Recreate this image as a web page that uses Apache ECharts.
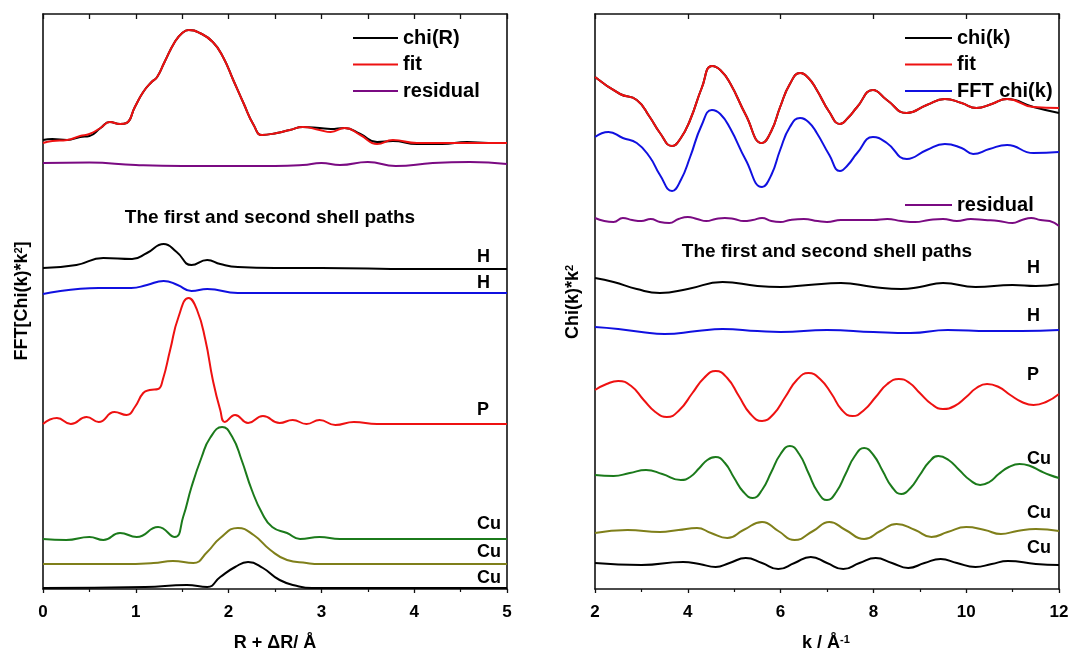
<!DOCTYPE html>
<html><head><meta charset="utf-8">
<script src="https://cdn.jsdelivr.net/npm/echarts@6/dist/echarts.min.js"></script>
<style>html,body{margin:0;padding:0;background:#fff}#c{width:1073px;height:654px}</style>
</head><body><div id="c"></div>
<script>
// ---------- Left panel: FFT, R + dR (Å) ----------
const chiR_x = [0,0.1,0.26,0.4,0.5,0.62,0.72,0.83,0.9,0.99,1.08,1.17,1.23,1.31,1.42,1.5,1.57,1.69,1.83,1.94,2.05,2.16,2.27,2.36,2.52,2.66,2.8,2.98,3.1,3.25,3.42,3.6,3.77,4.03,4.3,4.57,4.8,5.0];
const chiR_y = [4.49,4.50,4.49,4.52,4.53,4.61,4.67,4.65,4.66,4.82,4.97,5.07,5.12,5.27,5.47,5.56,5.59,5.56,5.47,5.32,5.09,4.86,4.64,4.54,4.56,4.59,4.62,4.61,4.60,4.61,4.55,4.47,4.48,4.45,4.45,4.47,4.46,4.46];
const fitR_y = [4.46,4.48,4.49,4.53,4.55,4.61,4.67,4.65,4.66,4.82,4.97,5.07,5.12,5.27,5.47,5.56,5.59,5.56,5.47,5.32,5.09,4.86,4.64,4.54,4.56,4.59,4.62,4.59,4.57,4.61,4.54,4.45,4.49,4.46,4.46,4.46,4.46,4.46];
const resR_x = [0,0.5,1.0,1.5,2.0,2.5,2.8,3.0,3.2,3.5,3.8,4.2,4.6,5.0];
const resR_y = [4.26,4.265,4.24,4.23,4.23,4.23,4.24,4.26,4.24,4.27,4.23,4.26,4.27,4.25];
const hR1_x = [0,0.36,0.65,0.96,1.12,1.3,1.44,1.6,1.77,1.91,2.1,2.5,3,4,5];
const hR1_y = [3.21,3.24,3.31,3.30,3.36,3.45,3.37,3.24,3.29,3.25,3.22,3.21,3.21,3.20,3.20];
const hR2_x = [0,0.6,0.95,1.12,1.3,1.45,1.6,1.77,2.1,3,5];
const hR2_y = [2.95,3.01,3.01,3.04,3.08,3.04,2.98,3.00,2.96,2.96,2.96];
const pR_x = [0,0.15,0.3,0.47,0.6,0.77,0.9,0.99,1.08,1.15,1.24,1.29,1.37,1.46,1.57,1.66,1.75,1.83,1.91,1.96,2.07,2.21,2.37,2.55,2.69,2.84,2.98,3.15,3.35,3.6,4,5];
const pR_y = [1.65,1.71,1.65,1.72,1.67,1.77,1.74,1.82,1.96,1.99,2.00,2.09,2.39,2.72,2.91,2.79,2.49,2.09,1.79,1.67,1.74,1.66,1.73,1.66,1.69,1.65,1.69,1.64,1.67,1.65,1.65,1.65];
const cuR1_x = [0,0.25,0.5,0.65,0.83,1.01,1.24,1.42,1.51,1.6,1.71,1.8,1.93,2.04,2.14,2.25,2.36,2.47,2.63,2.77,2.98,3.2,5];
const cuR1_y = [0.50,0.49,0.52,0.49,0.56,0.52,0.62,0.52,0.72,1.02,1.32,1.51,1.62,1.52,1.29,0.99,0.76,0.62,0.56,0.50,0.52,0.50,0.50];
const cuR2_x = [0,0.83,1.19,1.4,1.62,1.77,1.91,2.1,2.27,2.45,2.63,2.84,2.98,5];
const cuR2_y = [0.25,0.25,0.26,0.28,0.26,0.37,0.51,0.61,0.54,0.39,0.29,0.26,0.25,0.25];
const cuR3_x = [0,1.1,1.55,1.77,1.91,2.07,2.21,2.37,2.55,2.74,2.9,3.0,5];
const cuR3_y = [0.01,0.02,0.04,0.02,0.12,0.22,0.27,0.21,0.09,0.03,0.01,0.01,0.01];

// ---------- Right panel: k (1/Å) ----------
const chik_x = [2,2.54,2.9,3.18,3.4,3.66,3.85,4.05,4.3,4.52,4.7,4.91,5.25,5.6,5.8,5.99,6.2,6.42,6.6,6.78,7.05,7.28,7.45,7.65,7.99,8.29,8.72,9.15,9.54,9.9,10.22,10.55,10.88,11.45,12];
const chik_y = [5.12,4.95,4.89,4.72,4.56,4.43,4.51,4.69,5.01,5.23,5.19,5.06,4.74,4.46,4.58,4.82,5.05,5.16,5.11,4.99,4.77,4.65,4.71,4.82,4.99,4.89,4.76,4.84,4.90,4.86,4.81,4.85,4.90,4.82,4.76];
const fitk_y = [5.12,4.95,4.89,4.72,4.56,4.43,4.51,4.69,5.01,5.23,5.19,5.06,4.74,4.46,4.58,4.82,5.05,5.16,5.11,4.99,4.77,4.65,4.71,4.82,4.99,4.89,4.76,4.84,4.90,4.86,4.81,4.85,4.90,4.82,4.81];
const fftk_x = [2,2.29,2.6,2.9,3.18,3.4,3.66,3.85,4.05,4.3,4.52,4.7,4.91,5.25,5.6,5.8,5.99,6.2,6.42,6.6,6.78,7.05,7.28,7.45,7.65,7.99,8.29,8.72,9.15,9.54,9.9,10.15,10.5,10.88,11.45,12];
const fftk_y = [4.52,4.57,4.51,4.46,4.32,4.14,3.98,4.09,4.32,4.64,4.79,4.75,4.61,4.29,4.02,4.14,4.39,4.62,4.71,4.67,4.56,4.34,4.18,4.24,4.36,4.52,4.46,4.30,4.39,4.45,4.41,4.35,4.40,4.44,4.36,4.37];
const resk_x = [2,2.2,2.4,2.6,2.8,3.0,3.2,3.4,3.6,3.8,4.0,4.2,4.4,4.6,4.8,5.0,5.2,5.4,5.6,5.8,6.0,6.2,6.5,6.8,7.0,7.3,7.6,8.0,8.3,8.6,8.9,9.2,9.5,9.8,10.1,10.4,10.7,11.0,11.2,11.4,11.6,11.8,12];
const resk_y = [3.71,3.68,3.67,3.71,3.69,3.68,3.70,3.67,3.66,3.70,3.72,3.70,3.68,3.70,3.71,3.70,3.68,3.69,3.71,3.68,3.67,3.69,3.70,3.68,3.67,3.69,3.69,3.69,3.70,3.68,3.67,3.69,3.70,3.68,3.70,3.69,3.68,3.66,3.69,3.71,3.69,3.68,3.63];
const hk1_x = [2,2.4,2.9,3.4,4.0,4.75,5.5,6.0,6.6,7.3,8.0,8.6,9.0,9.5,10.2,11.0,11.5,12];
const hk1_y = [3.11,3.07,3.00,2.96,3.00,3.07,3.03,3.02,3.04,3.06,3.02,3.00,3.02,3.06,3.02,3.04,3.03,3.05];
const hk2_x = [2,2.5,3.0,3.5,4.2,4.75,5.5,6,7,8,8.8,9.6,10.5,11.2,12];
const hk2_y = [2.62,2.60,2.57,2.55,2.58,2.60,2.58,2.57,2.59,2.57,2.56,2.59,2.58,2.58,2.59];
const pk_x = [2,2.25,2.5,2.78,3.05,3.3,3.55,3.82,4.1,4.35,4.6,4.85,5.1,5.35,5.6,5.85,6.1,6.35,6.6,6.85,7.1,7.32,7.55,7.8,8.05,8.3,8.55,8.78,9.0,9.25,9.5,9.75,10.0,10.22,10.45,10.7,10.95,11.2,11.45,11.72,12];
const pk_y = [1.99,2.05,2.08,2.03,1.89,1.77,1.72,1.79,1.96,2.11,2.18,2.11,1.93,1.75,1.68,1.75,1.92,2.09,2.16,2.10,1.95,1.79,1.73,1.79,1.92,2.05,2.10,2.06,1.96,1.85,1.80,1.83,1.92,2.01,2.05,2.02,1.94,1.87,1.84,1.87,1.95];
const cuk1_x = [2,2.4,2.75,3.1,3.45,3.85,4.05,4.25,4.42,4.6,4.8,5.0,5.2,5.4,5.6,5.8,6.0,6.2,6.4,6.6,6.8,7.0,7.2,7.4,7.6,7.8,8.0,8.2,8.4,8.6,8.8,9.0,9.2,9.4,9.62,9.85,10.08,10.3,10.5,10.7,10.92,11.15,11.38,11.6,11.8,12];
const cuk1_y = [1.14,1.13,1.16,1.19,1.15,1.09,1.12,1.21,1.29,1.32,1.26,1.11,0.97,0.91,0.99,1.17,1.35,1.43,1.35,1.16,0.97,0.89,0.97,1.15,1.33,1.41,1.34,1.18,1.02,0.95,1.01,1.14,1.27,1.33,1.29,1.19,1.09,1.04,1.07,1.15,1.22,1.25,1.23,1.18,1.14,1.11];
const cuk2_x = [2,2.7,3.4,3.8,4.2,4.5,4.85,5.2,5.6,5.95,6.3,6.7,7.05,7.4,7.8,8.15,8.5,8.9,9.25,9.6,10.0,10.4,10.75,11.1,11.5,12];
const cuk2_y = [0.56,0.59,0.57,0.59,0.61,0.56,0.51,0.59,0.67,0.58,0.49,0.58,0.67,0.59,0.50,0.58,0.65,0.59,0.52,0.57,0.62,0.59,0.55,0.58,0.60,0.58];
const cuk3_x = [2,3,3.9,4.25,4.6,4.9,5.25,5.6,5.95,6.3,6.65,7.0,7.35,7.7,8.05,8.4,8.75,9.1,9.45,9.8,10.2,10.55,10.9,11.5,12];
const cuk3_y = [0.26,0.24,0.27,0.25,0.22,0.26,0.31,0.26,0.20,0.26,0.32,0.26,0.20,0.26,0.31,0.26,0.21,0.26,0.30,0.26,0.22,0.25,0.28,0.25,0.24];

const zip = (xs, ys) => xs.map((x, i) => [x, ys[i]]);
const C = {black:'#000000', red:'#ee1111', blue:'#1010e0', purple:'#7a0a82', green:'#1b7a1b', olive:'#7f7f1a'};
const FONT = '"Liberation Sans", Arial, sans-serif';

function line(name, data, color, xi, yi) {
  return {name, type:'line', data, xAxisIndex:xi, yAxisIndex:yi, showSymbol:false, smooth:0.5,
    lineStyle:{color, width:2}, itemStyle:{color}, silent:true, animation:false};
}

const G1 = {left:43, top:14, width:464, height:575};
const G2 = {left:595, top:14, width:464, height:575};

function xBottom(gi, min, max, interval) {
  return {type:'value', gridIndex:gi, min, max, interval, position:'bottom',
    axisLine:{onZero:false, lineStyle:{color:'#111', width:1.6}},
    axisTick:{inside:false, length:4, lineStyle:{color:'#111', width:1.3}},
    minorTick:{show:true, splitNumber:2, length:3, lineStyle:{color:'#111', width:1.2}},
    splitLine:{show:false},
    axisLabel:{margin:15, fontFamily:FONT, fontWeight:'bold', fontSize:17, color:'#000'}};
}
function xTop(gi, min, max, interval) {
  return {type:'value', gridIndex:gi, min, max, interval, position:'top',
    axisLine:{onZero:false, lineStyle:{color:'#111', width:1.6}},
    axisTick:{inside:true, length:5, lineStyle:{color:'#111', width:1.3}},
    splitLine:{show:false}, axisLabel:{show:false}};
}
function yAx(gi, pos) {
  return {type:'value', gridIndex:gi, min:0, max:5.75, position:pos,
    axisLine:{show:true, onZero:false, lineStyle:{color:'#111', width:1.6}},
    axisTick:{show:false}, axisLabel:{show:false}, splitLine:{show:false}};
}

const txt = (x, y, text, size, align, extra) => Object.assign({type:'text', x, y, silent:true,
  style:{text, fontFamily:FONT, fontWeight:'bold', fontSize:size, fill:'#000',
    textAlign:align||'left', textVerticalAlign:'middle',
    rich:{sup:{fontFamily:FONT, fontWeight:'bold', fontSize:Math.round(size*0.62), verticalAlign:'top', fill:'#000'}}}}, extra||{});

const legendText = {fontFamily:FONT, fontWeight:'bold', fontSize:20, lineHeight:20, color:'#000'};

const option = {
  animation:false,
  backgroundColor:'#fff',
  grid:[G1, G2],
  xAxis:[xBottom(0,0,5,1), xTop(0,0,5,0.5), xBottom(1,2,12,2), xTop(1,2,12,2)],
  yAxis:[yAx(0,'left'), yAx(0,'right'), yAx(1,'left'), yAx(1,'right')],
  legend:[
    {orient:'vertical', left:348, top:23, itemWidth:45, itemHeight:2, icon:'rect', itemGap:6.5,
     textStyle:legendText, data:['chi(R)','fit','residual'], selectedMode:false},
    {orient:'vertical', left:900, top:23, itemWidth:47, itemHeight:2, icon:'rect', itemGap:6.5,
     textStyle:legendText, data:['chi(k)','fit','FFT chi(k)'], selectedMode:false},
    {orient:'vertical', left:900, top:190, itemWidth:47, itemHeight:2, icon:'rect',
     textStyle:legendText, data:['residual'], selectedMode:false}
  ],
  series:[
    line('chi(R)', zip(chiR_x, chiR_y), C.black, 0, 0),
    line('fit', zip(chiR_x, fitR_y), C.red, 0, 0),
    line('residual', zip(resR_x, resR_y), C.purple, 0, 0),
    line('H path R1', zip(hR1_x, hR1_y), C.black, 0, 0),
    line('H path R2', zip(hR2_x, hR2_y), C.blue, 0, 0),
    line('P path R', zip(pR_x, pR_y), C.red, 0, 0),
    line('Cu path R1', zip(cuR1_x, cuR1_y), C.green, 0, 0),
    line('Cu path R2', zip(cuR2_x, cuR2_y), C.olive, 0, 0),
    line('Cu path R3', zip(cuR3_x, cuR3_y), C.black, 0, 0),
    line('chi(k)', zip(chik_x, chik_y), C.black, 2, 2),
    line('fit', zip(chik_x, fitk_y), C.red, 2, 2),
    line('FFT chi(k)', zip(fftk_x, fftk_y), C.blue, 2, 2),
    line('residual', zip(resk_x, resk_y), C.purple, 2, 2),
    line('H path k1', zip(hk1_x, hk1_y), C.black, 2, 2),
    line('H path k2', zip(hk2_x, hk2_y), C.blue, 2, 2),
    line('P path k', zip(pk_x, pk_y), C.red, 2, 2),
    line('Cu path k1', zip(cuk1_x, cuk1_y), C.green, 2, 2),
    line('Cu path k2', zip(cuk2_x, cuk2_y), C.olive, 2, 2),
    line('Cu path k3', zip(cuk3_x, cuk3_y), C.black, 2, 2)
  ],
  graphic:[
    txt(270, 218, 'The first and second shell paths', 19, 'center'),
    txt(477, 257, 'H', 18), txt(477, 283, 'H', 18), txt(477, 410, 'P', 18),
    txt(477, 524, 'Cu', 18), txt(477, 552, 'Cu', 18), txt(477, 578, 'Cu', 18),
    txt(827, 252, 'The first and second shell paths', 19, 'center'),
    txt(1027, 268, 'H', 18), txt(1027, 316, 'H', 18), txt(1027, 375, 'P', 18),
    txt(1027, 459, 'Cu', 18), txt(1027, 513, 'Cu', 18), txt(1027, 548, 'Cu', 18),
    txt(275, 643, 'R + ΔR/ Å', 18, 'center'),
    txt(826, 643, 'k / Å{sup|-1}', 18, 'center'),
    txt(22, 301, 'FFT[Chi(k)*k{sup|2}]', 18, 'center', {rotation:Math.PI/2}),
    txt(573, 302, 'Chi(k)*k{sup|2}', 18, 'center', {rotation:Math.PI/2})
  ]
};
const chart = echarts.init(document.getElementById('c'), null, {renderer:'canvas'});
chart.setOption(option);
</script></body></html>
